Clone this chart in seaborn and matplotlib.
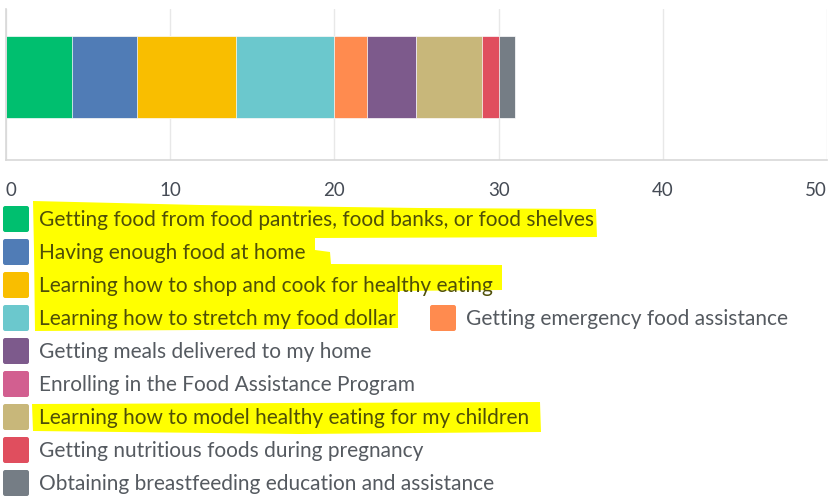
import matplotlib
matplotlib.use("Agg")
import matplotlib.pyplot as plt
from matplotlib.patches import Patch, Polygon, FancyBboxPatch
from matplotlib.legend_handler import HandlerPatch
import pandas as pd
import seaborn as sns

# Responses per support topic (stacked in this order)
categories = [
    "Getting food from food pantries, food banks, or food shelves",
    "Having enough food at home",
    "Learning how to shop and cook for healthy eating",
    "Learning how to stretch my food dollar",
    "Getting emergency food assistance",
    "Getting meals delivered to my home",
    "Enrolling in the Food Assistance Program",
    "Learning how to model healthy eating for my children",
    "Getting nutritious foods during pregnancy",
    "Obtaining breastfeeding education and assistance",
]
counts = [4, 4, 6, 6, 2, 3, 0, 4, 1, 1]
colors = ["#00BF6F", "#507CB6", "#F9BE00", "#6BC8CD", "#FF8B4F",
          "#7D5A8C", "#D25F90", "#C8B77A", "#E04E5E", "#757D85"]
xticks = [0, 10, 20, 30, 40, 50]
marked = [0, 1, 2, 3, 7]  # topics marked with a highlighter

sns.set_theme(style="white")
plt.rcParams["font.family"] = ["Lato", "DejaVu Sans"]

W, H = 829, 496
fig = plt.figure(figsize=(W / 100, H / 100), dpi=100)
ax = fig.add_axes([6 / W, 1 - 160 / H, 821 / W, 151 / H])

df = pd.DataFrame({"row": "all", "category": categories, "count": counts})
df["cum"] = df["count"].cumsum()

# Stacked bar: draw cumulative totals from the longest down, so each
# shorter bar covers the start of the previous one
for i in reversed(range(len(df))):
    sns.barplot(x=[df.loc[i, "cum"]], y=[df.loc[i, "row"]], orient="h",
                color=colors[i], width=1.0, saturation=1, ax=ax,
                edgecolor="#ffffff", linewidth=0.5)

ax.set_xlim(0, 50)
ax.set_ylim(1.012, -0.829)
ax.set_yticks([])
ax.set_xlabel("")
ax.set_ylabel("")
ax.set_axisbelow(True)
ax.xaxis.grid(True, color="#e8e8e8", linewidth=1.0)
for side in ["top", "right"]:
    ax.spines[side].set_visible(False)
for side in ["left", "bottom"]:
    ax.spines[side].set_color("#d8d8d8")
    ax.spines[side].set_linewidth(1.2)

ax.set_xticks(xticks, labels=[str(t) for t in xticks])
ax.tick_params(axis="x", length=0, pad=16, labelsize=13.5, labelcolor="#454b55")
tl = ax.get_xticklabels()
tl[0].set_horizontalalignment("left")
tl[-1].set_horizontalalignment("right")


def rounded_swatch(legend, orig_handle, xdescent, ydescent, width, height, fontsize):
    r = 1.6
    return FancyBboxPatch((-xdescent + r, -ydescent + r), width - 2 * r, height - 2 * r,
                          boxstyle=f"round,pad={r}")


handler = {Patch: HandlerPatch(patch_func=rounded_swatch)}
fs = 15.0
fs_px = fs * 100 / 72
sw_len = 26 / fs_px
# the drawn swatch height is fontsize * (0.65 * handleheight + 0.245)
sw_h = (sw_len - 0.245) / 0.65

main_idx = [i for i in range(len(categories)) if i != 4]
side_idx = [4]

common = dict(loc="upper left", bbox_transform=fig.transFigure, frameon=False,
              fontsize=fs, handlelength=sw_len, handleheight=sw_h,
              handletextpad=10 / fs_px, borderpad=0, borderaxespad=0,
              labelspacing=(33 - 26) / fs_px, handler_map=handler)

leg1 = fig.legend([Patch(facecolor=colors[i], edgecolor="none") for i in main_idx],
                  [categories[i] for i in main_idx],
                  bbox_to_anchor=(3 / W, 1 - 206 / H), **common)
leg2 = fig.legend([Patch(facecolor=colors[i], edgecolor="none") for i in side_idx],
                  [categories[i] for i in side_idx],
                  bbox_to_anchor=(430 / W, 1 - 305 / H), **common)

for leg, idx in [(leg1, main_idx), (leg2, side_idx)]:
    for t, i in zip(leg.get_texts(), idx):
        t.set_color("#4f4f08" if i in marked else "#555a60")

# Highlighter strokes behind the marked legend entries
strokes = [
    [(33, 201), (200, 205), (420, 208), (596, 209), (597, 237), (315, 238),
     (315, 250), (330, 252), (331, 264), (502, 265), (502, 290), (398, 291),
     (398, 328), (200, 330), (35, 331), (34, 250)],
    [(32, 404), (300, 403), (540, 402), (541, 432), (300, 434), (33, 431)],
]
for pts in strokes:
    fig.add_artist(Polygon([(x / W, 1 - y / H) for x, y in pts], closed=True,
                           transform=fig.transFigure, facecolor="#FFFF00",
                           edgecolor="none", zorder=0.5))

fig.savefig("out.png", dpi=100)
